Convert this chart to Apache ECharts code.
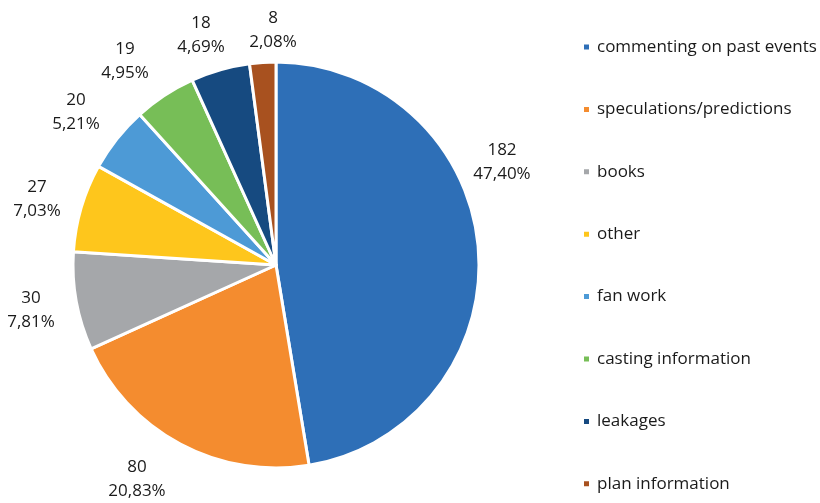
<!DOCTYPE html>
<html>
<head>
<meta charset="utf-8">
<script src="https://cdn.jsdelivr.net/npm/echarts@6/dist/echarts.min.js"></script>
<style>
  html, body { margin: 0; padding: 0; background: #ffffff; }
  #chart { width: 820px; height: 503px; }
</style>
</head>
<body>
<div id="chart"></div>
<script>
// Post categories and their counts
const categories = [
  'commenting on past events',
  'speculations/predictions',
  'books',
  'other',
  'fan work',
  'casting information',
  'leakages',
  'plan information'
];
const counts = [182, 80, 30, 27, 20, 19, 18, 8];
const colors = ['#2E6FB7', '#F48C2F', '#A5A7AA', '#FEC61C', '#4D9AD6', '#77BE57', '#164A80', '#A8511F'];

// Where each two-line value label sits (block centre, px)
const labelSpots = [
  [502, 162], [137, 479], [31, 310], [37, 199],
  [76, 112], [125, 61], [201, 35], [273, 30]
];

const font = '"Open Sans", "Noto Sans", sans-serif';

const chart = echarts.init(document.getElementById('chart'), null, { renderer: 'canvas' });
chart.setOption({
  animation: false,
  color: colors,
  legend: {
    orient: 'vertical',
    left: 582,
    top: 38.5,
    padding: 0,
    itemWidth: 7,
    itemHeight: 7,
    itemGap: 45.4,
    icon: 'rect',
    textStyle: { fontFamily: font, fontSize: 17, color: '#1a1a1a', lineHeight: 17, padding: [0, 0, 0, 2] },
    data: categories
  },
  series: [{
    type: 'pie',
    center: [276, 265],
    radius: 203,
    startAngle: 90,
    clockwise: true,
    avoidLabelOverlap: false,
    itemStyle: { borderColor: '#ffffff', borderWidth: 3 },
    label: {
      show: true,
      position: 'outside',
      fontFamily: font,
      fontSize: 17,
      lineHeight: 24,
      color: '#1a1a1a',
      align: 'center',
      formatter: p => p.value + '\n' + p.percent.toFixed(2).replace('.', ',') + '%'
    },
    labelLine: { show: false },
    labelLayout: p => ({
      x: labelSpots[p.dataIndex][0],
      y: labelSpots[p.dataIndex][1],
      align: 'center',
      verticalAlign: 'middle'
    }),
    percentPrecision: 2,
    data: categories.map((name, i) => ({ name, value: counts[i] }))
  }]
});
</script>
</body>
</html>
